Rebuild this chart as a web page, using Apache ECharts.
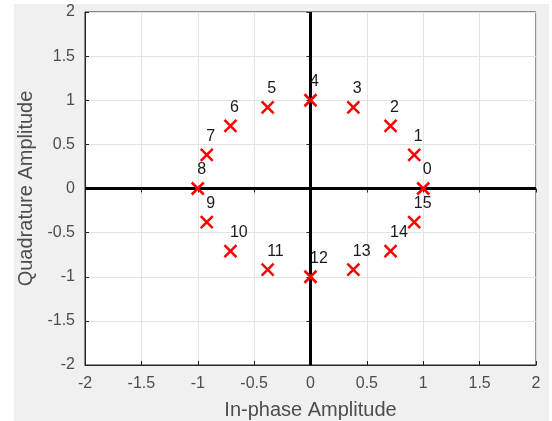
<!DOCTYPE html>
<head>
    <meta charset="utf-8">
    <title>16-PSK</title>
    <script src="https://cdn.jsdelivr.net/npm/echarts@6/dist/echarts.min.js"></script>
    <style>
      body { margin:0; background:#fff; }
      #main { position:absolute; left:14px; top:4px; width:535px; height:417px; background:#f0f0f0; }
    </style>
</head>
<body>
<div id="main"></div>
<script type="text/javascript">
var inPhase    = [1, 0.92, 0.71, 0.38, 0, -0.38, -0.71, -0.92, -1, -0.92, -0.71, -0.38, 0, 0.38, 0.71, 0.92];
var quadrature = [0, 0.38, 0.71, 0.92, 1, 0.92, 0.71, 0.38, 0, -0.38, -0.71, -0.92, -1, -0.92, -0.71, -0.38];
var pointLabels = ['0','1','2','3','4','5','6','7','8','9','10','11','12','13','14','15'];

var myChart = echarts.init(document.getElementById('main'));
var pts = [];
for (var i = 0; i < inPhase.length; i++) {
    pts.push({ value: [inPhase[i], quadrature[i]], name: pointLabels[i] });
}

var font = '"Liberation Sans", Arial, sans-serif';
var tickLbl = { color:'#4d4d4d', fontSize:16, fontFamily:font };

var option = {
    animation: false,
    grid: { left:71, top:8, width:451, height:353, outerBoundsMode:'none', containLabel:false,
            show:true, backgroundColor:'#fff', borderColor:'#262626', borderWidth:1 },
    xAxis: [
        { type:'value', min:-2, max:2, interval:0.5, position:'bottom',
          name:'In-phase Amplitude', nameLocation:'middle', nameGap:35,
          nameTextStyle:{ color:'#4d4d4d', fontSize:20, fontFamily:font },
          axisLine:{ show:true, onZero:false, lineStyle:{ color:'#262626' } },
          axisTick:{ show:true, inside:true, length:4, lineStyle:{ color:'#262626' } },
          axisLabel:Object.assign({ margin:11 }, tickLbl),
          splitLine:{ show:true, lineStyle:{ color:'#e3e3e3' } } },
        { type:'value', min:-2, max:2, interval:0.5, position:'top',
          axisLine:{ show:false }, axisLabel:{ show:false }, splitLine:{ show:false },
          axisTick:{ show:true, inside:true, length:4, lineStyle:{ color:'#262626' } } }
    ],
    yAxis: [
        { type:'value', min:-2, max:2, interval:0.5, position:'left',
          name:'Quadrature Amplitude', nameLocation:'middle', nameGap:45,
          nameTextStyle:{ color:'#4d4d4d', fontSize:20, fontFamily:font },
          axisLine:{ show:true, onZero:false, lineStyle:{ color:'#262626' } },
          axisTick:{ show:true, inside:true, length:4, lineStyle:{ color:'#262626' } },
          axisLabel:Object.assign({ margin:10 }, tickLbl),
          splitLine:{ show:true, lineStyle:{ color:'#e3e3e3' } } },
        { type:'value', min:-2, max:2, interval:0.5, position:'right',
          axisLine:{ show:false }, axisLabel:{ show:false }, splitLine:{ show:false },
          axisTick:{ show:true, inside:true, length:4, lineStyle:{ color:'#262626' } } }
    ],
    series: [
        {
            type:'scatter',
            data: pts,
            symbol:'path://M0,0L10,10M10,0L0,10',
            symbolSize:12,
            itemStyle:{ color:'none', borderColor:'#ff0000', borderWidth:2.5, opacity:1 },
            label:{ show:true, formatter:'{b}', position:[8,-10], align:'left', verticalAlign:'middle',
                    color:'#1a1a1a', fontSize:16, fontFamily:font },
            markLine:{
                silent:true, symbol:'none', animation:false,
                label:{ show:false },
                lineStyle:{ color:'#000', width:3, type:'solid' },
                data:[ { xAxis:0 }, { yAxis:0 } ]
            },
            z:5
        }
    ]
};
myChart.setOption(option);
</script>
</body>
